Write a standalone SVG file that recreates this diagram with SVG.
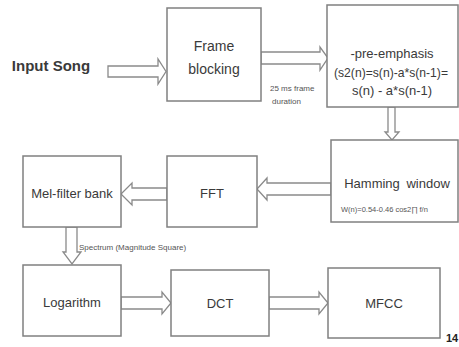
<svg xmlns="http://www.w3.org/2000/svg" width="459" height="347" viewBox="0 0 459 347">
<style>
.box{fill:#fff;stroke:#808080;stroke-width:1.5}
.arr{fill:#fff;stroke:#8a8a8a;stroke-width:1.3;stroke-linejoin:miter}
.t{font-family:"Liberation Sans",Arial,sans-serif;fill:#3a3a3a;text-anchor:middle;dominant-baseline:central}
.s{font-family:"Liberation Sans",Arial,sans-serif;fill:#555;dominant-baseline:central}
</style>
<rect width="459" height="347" fill="#fff"/>
<g id="connectors">
<polygon class="arr" points="108,66 158,66 158,59 166,71.5 158,84 158,77 108,77"/>
<polygon class="arr" points="261,52 320,52 320,47 328,58 320,70 320,64 261,64"/>
<polygon class="arr" points="388,107 395,107 395,132 399,132 392,140 385,132 388,132"/>
<polygon class="arr" points="331,183 267,183 267,178 257,189 267,200 267,195 331,195"/>
<polygon class="arr" points="167,188 132,188 132,183 121,194 132,205 132,200 167,200"/>
<polygon class="arr" points="66,227 77,227 77,252 81,252 72,264 63,252 66,252"/>
<polygon class="arr" points="121,297 162,297 162,292 171,303 162,314 162,309 121,309"/>
<polygon class="arr" points="269,297 319,297 319,292 328,303 319,314 319,309 269,309"/>
<text class="s" x="270" y="88" font-size="8">25 ms frame</text>
<text class="s" x="272" y="101" font-size="8">duration</text>
<text class="s" x="79" y="247" font-size="8">Spectrum (Magnitude Square)</text>
</g>
<g id="input">
<text class="t" x="51" y="65" font-size="15" font-weight="bold" fill="#333">Input Song</text>
</g>
<g id="frame-blocking">
<rect class="box" x="167" y="8" width="94" height="93"/>
<text class="t" x="214" y="46" font-size="14">Frame</text>
<text class="t" x="214" y="69" font-size="14">blocking</text>
</g>
<g id="pre-emphasis">
<rect class="box" x="327" y="5" width="131" height="102"/>
<text class="t" x="392" y="53" font-size="13">-pre-emphasis</text>
<text class="t" x="391" y="72" font-size="13" textLength="114" lengthAdjust="spacingAndGlyphs">(s2(n)=s(n)-a*s(n-1)=</text>
<text class="t" x="392" y="90" font-size="13">s(n) - a*s(n-1)</text>
</g>
<g id="hamming">
<rect class="box" x="331" y="140" width="127" height="82"/>
<text class="t" x="397" y="183" font-size="13" font-weight="500" word-spacing="3">Hamming window</text>
<text class="s" x="341" y="209" font-size="7.5">W(n)=0.54-0.46 cos2∏ f/n</text>
</g>
<g id="fft">
<rect class="box" x="167" y="156" width="90" height="71"/>
<text class="t" x="212" y="193" font-size="13">FFT</text>
</g>
<g id="mel">
<rect class="box" x="23" y="156" width="98" height="71"/>
<text class="t" x="72" y="193" font-size="13">Mel-filter bank</text>
</g>
<g id="logarithm">
<rect class="box" x="23" y="265" width="98" height="71"/>
<text class="t" x="72" y="302" font-size="13">Logarithm</text>
</g>
<g id="dct">
<rect class="box" x="171" y="270" width="98" height="66"/>
<text class="t" x="220" y="303" font-size="13">DCT</text>
</g>
<g id="mfcc">
<rect class="box" x="328" y="268" width="112" height="70"/>
<text class="t" x="384" y="303" font-size="13">MFCC</text>
</g>
<text x="446" y="342" font-family="Liberation Sans,Arial,sans-serif" font-size="11" font-weight="bold" fill="#222">14</text>
</svg>
